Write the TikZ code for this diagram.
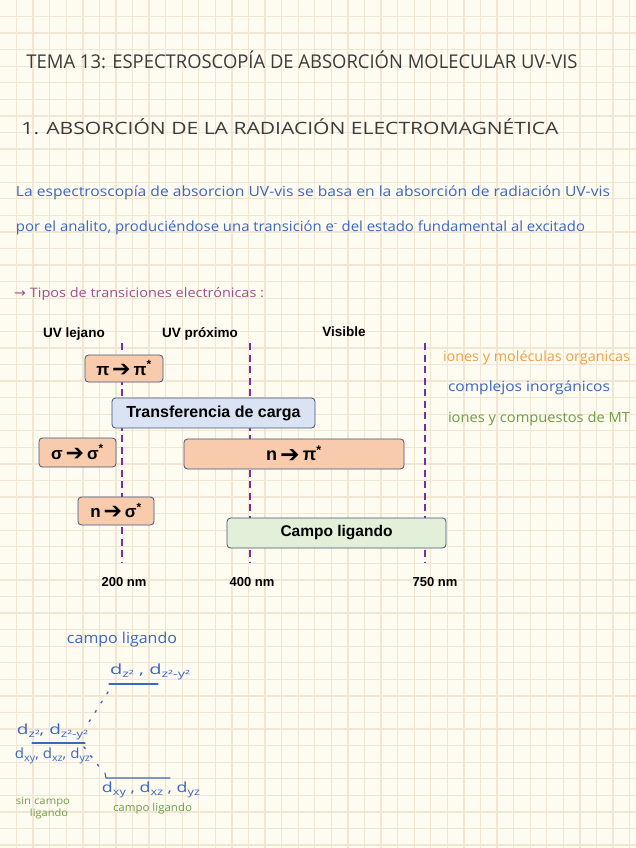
\documentclass[tikz,border=0pt]{standalone}
\usepackage{fontspec}
\setmainfont{Liberation Sans}
\newfontfamily\handfont{Open Sans}
\newfontfamily\arrowfont{DejaVu Sans}
\usetikzlibrary{positioning}

\definecolor{paper}{HTML}{FEFBF0}
\definecolor{gridtan}{HTML}{F1E5D3}
\definecolor{inkgray}{HTML}{3C3C3C}
\definecolor{inkblue}{HTML}{3B66C2}
\definecolor{inkpurple}{HTML}{A24E8C}
\definecolor{inkorange}{HTML}{F0A040}
\definecolor{inkgreen}{HTML}{6E9E45}
\definecolor{bandpurple}{HTML}{7530A8}
\definecolor{bandline}{HTML}{41557A}
\definecolor{fillorange}{HTML}{F8CBAD}
\definecolor{fillblue}{HTML}{DAE3F3}
\definecolor{fillgreen}{HTML}{E2F0D9}

% ancho fijo, alto natural
\newcommand{\fitw}[2]{\resizebox{#1}{\height}{#2}}
\newcommand{\pstar}[1]{#1\textsuperscript{*}}
\newcommand{\bigarrow}{\,\raisebox{-0.06em}{\scalebox{1.3}{\arrowfont ➔}}\,}
\newcommand{\orb}[1]{\raisebox{-0.2em}{\fontsize{10}{11}\selectfont #1}}

\begin{document}
\begin{tikzpicture}[x=1pt,y=-1pt,
    hand/.style={inner sep=0pt, font=\handfont\fontsize{14}{16}\selectfont},
    band/.style={draw=bandline, line width=0.8pt, rounded corners=3.5pt,
        inner sep=0pt, font=\bfseries\fontsize{17}{19}\selectfont},
    region/.style={inner sep=0pt, font=\bfseries\fontsize{13.5}{15}\selectfont},
    limit/.style={bandpurple, line width=2.5pt, dash pattern=on 7pt off 4.5pt},
    level/.style={inkblue, line width=1.1pt, line cap=round},
    gap/.style={inkblue, line width=1.4pt, line cap=round, dash pattern=on 2pt off 9pt}]

    % Papel cuadriculado
    \fill[paper] (0,0) rectangle (636,848);
    \useasboundingbox (0,0) rectangle (636,848);
    \foreach \i in {1,...,38}
        \draw[gridtan, line width=1.3pt] (\i*16.57,0) -- (\i*16.57,848);
    \foreach \j in {1,...,51}
        \draw[gridtan, line width=1.3pt] (0,\j*16.57) -- (636,\j*16.57);

    % Titulos
    \node[hand, text=inkgray, font=\handfont\fontsize{19}{21}\selectfont] (tema) at (302,60)
        {\fitw{551pt}{TEMA 13: ESPECTROSCOPÍA DE ABSORCIÓN MOLECULAR UV-VIS}};
    \node[hand, text=inkgray, font=\handfont\fontsize{17}{19}\selectfont] (apartado) at (290,127)
        {\fitw{537pt}{1. ABSORCIÓN DE LA RADIACIÓN ELECTROMAGNÉTICA}};

    % Introduccion
    \node[hand, text=inkblue] (intro1) at (313,193)
        {\fitw{594pt}{La espectroscopía de absorcion UV-vis se basa en la absorción de radiación UV-vis}};
    \node[hand, text=inkblue] (intro2) at (300.5,228)
        {\fitw{569pt}{por el analito, produciéndose una transición e\textsuperscript{-} del estado fundamental al excitado}};
    \node[hand, text=inkpurple, font=\handfont\fontsize{13}{15}\selectfont] (tipos) at (139,294)
        {\fitw{250pt}{{\arrowfont →} Tipos de transiciones electrónicas :}};

    % Regiones del espectro
    \node[region] (lejano) at (74,334) {UV lejano};
    \node[region] (proximo) at (200,334) {UV próximo};
    \node[region] (visible) at (344,332) {Visible};

    % Limites en nm
    \foreach \x/\nm in {122/200, 250/400, 425/750} {
        \coordinate (top\nm) at (\x,343);
        \coordinate (bot\nm) at (\x,563);
        \draw[limit] (top\nm) -- (bot\nm);
    }
    \node[region, font=\bfseries\fontsize{13}{15}\selectfont] (nm200) at (124,582) {200 nm};
    \node[region, font=\bfseries\fontsize{13}{15}\selectfont] (nm400) at (252,582) {400 nm};
    \node[region, font=\bfseries\fontsize{13}{15}\selectfont] (nm750) at (435,582) {750 nm};

    % Transiciones
    \node[band, fill=fillorange, minimum width=78pt, minimum height=27pt] (pipi) at (124,368.5)
        {π\bigarrow\pstar{π}};
    \node[band, fill=fillblue, minimum width=203pt, minimum height=30pt,
        font=\bfseries\fontsize{16}{18}\selectfont] (carga) at (213.5,413)
        {Transferencia de carga};
    \node[band, fill=fillorange, minimum width=77pt, minimum height=29pt] (sigsig) at (77.5,452.5)
        {σ\bigarrow\pstar{σ}};
    \node[band, fill=fillorange, minimum width=220pt, minimum height=30pt,
        font=\bfseries\fontsize{18}{20}\selectfont] (npi) at (294,454)
        {n\bigarrow\pstar{π}};
    \node[band, fill=fillorange, minimum width=76pt, minimum height=28pt] (nsig) at (116,511)
        {n\bigarrow\pstar{σ}};
    \node[band, fill=fillgreen, minimum width=219pt, minimum height=30pt,
        font=\bfseries\fontsize{15.5}{17}\selectfont] (ligando) at (336.5,533)
        {Campo ligando};

    % Notas al margen
    \node[hand, text=inkorange] (organicas) at (536.5,358)
        {\fitw{187pt}{iones y moléculas organicas}};
    \node[hand, text=inkblue] (inorganicos) at (529,388)
        {\fitw{162pt}{complejos inorgánicos}};
    \node[hand, text=inkgreen] (metales) at (539,419)
        {\fitw{182pt}{iones y compuestos de MT}};

    % Desdoblamiento del campo ligando
    \node[hand, text=inkblue, font=\handfont\fontsize{15}{17}\selectfont] (campo) at (122,640)
        {\fitw{110pt}{campo ligando}};

    \coordinate (egL) at (109,684);
    \coordinate (egR) at (158,684);
    \coordinate (dL) at (32,743);
    \coordinate (dR) at (85,743);
    \coordinate (t2L) at (106,778);
    \coordinate (t2R) at (170,778);
    \draw[level] (egL) -- (egR);
    \draw[level] (dL) -- (dR);
    \draw[level] (105,773) -- (t2L) -- (t2R);

    \coordinate (up1) at (108,692);
    \coordinate (up2) at (87,725);
    \coordinate (dn1) at (84,747);
    \coordinate (dn2) at (101,769);
    \draw[gap] (up1) -- (up2);
    \draw[gap] (dn1) -- (dn2);

    \node[hand, text=inkblue] (eg) at (150,672)
        {\fitw{80pt}{d\orb{z²} , d\orb{z²-y²}}};
    \node[hand, text=inkblue] (libre1) at (52.5,732)
        {\fitw{71pt}{d\orb{z²}, d\orb{z²-y²}}};
    \node[hand, text=inkblue] (libre2) at (52.5,756)
        {\fitw{75pt}{d\orb{xy}, d\orb{xz}, d\orb{yz}}};
    \node[hand, text=inkblue] (t2) at (151,790)
        {\fitw{98pt}{d\orb{xy} , d\orb{xz} , d\orb{yz}}};

    \node[hand, text=inkgreen, font=\handfont\fontsize{11}{13}\selectfont] (concampo) at (152.5,809)
        {\fitw{79pt}{campo ligando}};
    \node[hand, text=inkgreen, font=\handfont\fontsize{10}{12}\selectfont] (sincampo) at (43,802)
        {\fitw{54pt}{sin campo}};
    \node[hand, text=inkgreen, font=\handfont\fontsize{10}{12}\selectfont] (sincampo2) at (49,814)
        {\fitw{38pt}{ligando}};

\end{tikzpicture}
\end{document}
